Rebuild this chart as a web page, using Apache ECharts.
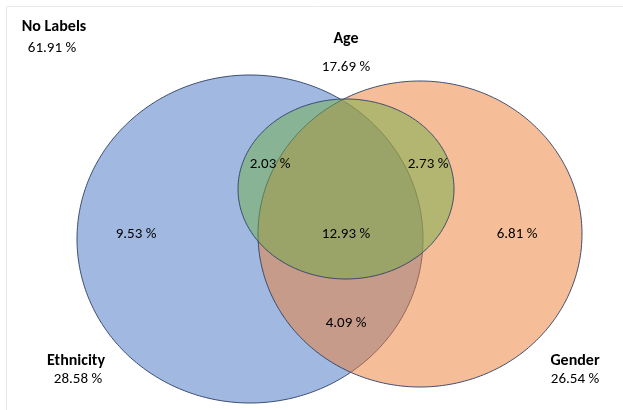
<!DOCTYPE html>
<html>
<head>
<meta charset="utf-8">
<script src="https://cdn.jsdelivr.net/npm/echarts@6/dist/echarts.min.js"></script>
<style>
  html, body { margin: 0; padding: 0; background: #ffffff; }
  #chart { width: 623px; height: 410px; }
</style>
</head>
<body>
<div id="chart"></div>
<script>
// Set names and the share of records carrying each label (%)
const setNames = ['Ethnicity', 'Gender', 'Age'];
const setTotals = [28.58, 26.54, 17.69];
const setColors = ['#4472C4', '#ED7D31', '#70AD47'];

// Records with none of the labels (%)
const noneName = 'No Labels';
const noneValue = 61.91;

// Exclusive regions of the diagram (%)
const regionNames = ['Ethnicity only', 'Gender only', 'Ethnicity & Age', 'Gender & Age', 'All three', 'Ethnicity & Gender'];
const regionValues = [9.53, 6.81, 2.03, 2.73, 12.93, 4.09];

// Ellipse geometry in plot units (x right, y down)
const ellipseLayout = [
  { cx: 250, cy: 239, rx: 173, ry: 164 },
  { cx: 420, cy: 234, rx: 162, ry: 153 },
  { cx: 346, cy: 189, rx: 108, ry: 90 }
];

// Label anchors in plot units
const setTitleAnchors = [[76, 361], [575, 361], [346, 39]];
const setValueAnchors = [[78, 379], [575, 379], [346, 67]];
const noneTitleAnchor = [54, 27];
const noneValueAnchor = [52, 48];
const regionAnchors = [[136, 234], [517, 234], [270, 164], [428, 164], [346, 234], [346, 323]];

const FONT = 'Carlito, Lato, "Liberation Sans", sans-serif';
const fmt = v => v.toFixed(2) + ' %';

// Text items: [x, y, text, bold]
const textItems = [];
setNames.forEach((n, i) => {
  textItems.push([setTitleAnchors[i][0], setTitleAnchors[i][1], n, 1]);
  textItems.push([setValueAnchors[i][0], setValueAnchors[i][1], fmt(setTotals[i]), 0]);
});
textItems.push([noneTitleAnchor[0], noneTitleAnchor[1], noneName, 1]);
textItems.push([noneValueAnchor[0], noneValueAnchor[1], fmt(noneValue), 0]);
regionValues.forEach((v, i) => {
  textItems.push([regionAnchors[i][0], regionAnchors[i][1], fmt(v), 0]);
});

function ellipsePoints(c, s, n) {
  const pts = [];
  for (let k = 0; k < n; k++) {
    const t = (k / n) * Math.PI * 2;
    pts.push([c[0] + s[0] * Math.cos(t), c[1] + s[1] * Math.sin(t)]);
  }
  return pts;
}

const chart = echarts.init(document.getElementById('chart'), null, { renderer: 'canvas' });

chart.setOption({
  animation: false,
  backgroundColor: '#ffffff',
  grid: { left: 0, right: 0, top: 0, bottom: 0 },
  xAxis: { type: 'value', min: 0, max: 623, show: false },
  yAxis: { type: 'value', min: 0, max: 410, inverse: true, show: false },
  graphic: [{
    type: 'rect',
    shape: { x: 6.5, y: 6.5, width: 660, height: 440 },
    style: { fill: 'none', stroke: '#E8E8E8', lineWidth: 1 },
    silent: true,
    z: -10
  }],
  series: [
    {
      type: 'custom',
      name: 'sets',
      coordinateSystem: 'cartesian2d',
      data: setNames.map((n, i) => ({ name: n, value: [i, setTotals[i]] })),
      renderItem: function (params, api) {
        const i = api.value(0);
        const e = ellipseLayout[i];
        const c = api.coord([e.cx, e.cy]);
        const s = api.size([e.rx, e.ry]);
        return {
          type: 'polygon',
          shape: { points: ellipsePoints(c, s, 360) },
          style: {
            fill: setColors[i],
            opacity: 1,
            fillOpacity: 0.5,
            stroke: '#2B3F66',
            strokeOpacity: 0.9,
            lineWidth: 1
          }
        };
      },
      z: 2
    },
    {
      type: 'custom',
      name: 'labels',
      coordinateSystem: 'cartesian2d',
      data: textItems,
      renderItem: function (params, api) {
        const p = api.coord([api.value(0), api.value(1)]);
        const item = textItems[params.dataIndex];
        const bold = item[3] === 1;
        return {
          type: 'text',
          x: p[0],
          y: p[1],
          style: {
            text: item[2],
            fill: '#000000',
            fontFamily: FONT,
            fontSize: bold ? 16 : 15,
            fontWeight: bold ? 'bold' : 'normal',
            align: 'center',
            verticalAlign: 'middle'
          }
        };
      },
      z: 5
    }
  ]
});
</script>
</body>
</html>
